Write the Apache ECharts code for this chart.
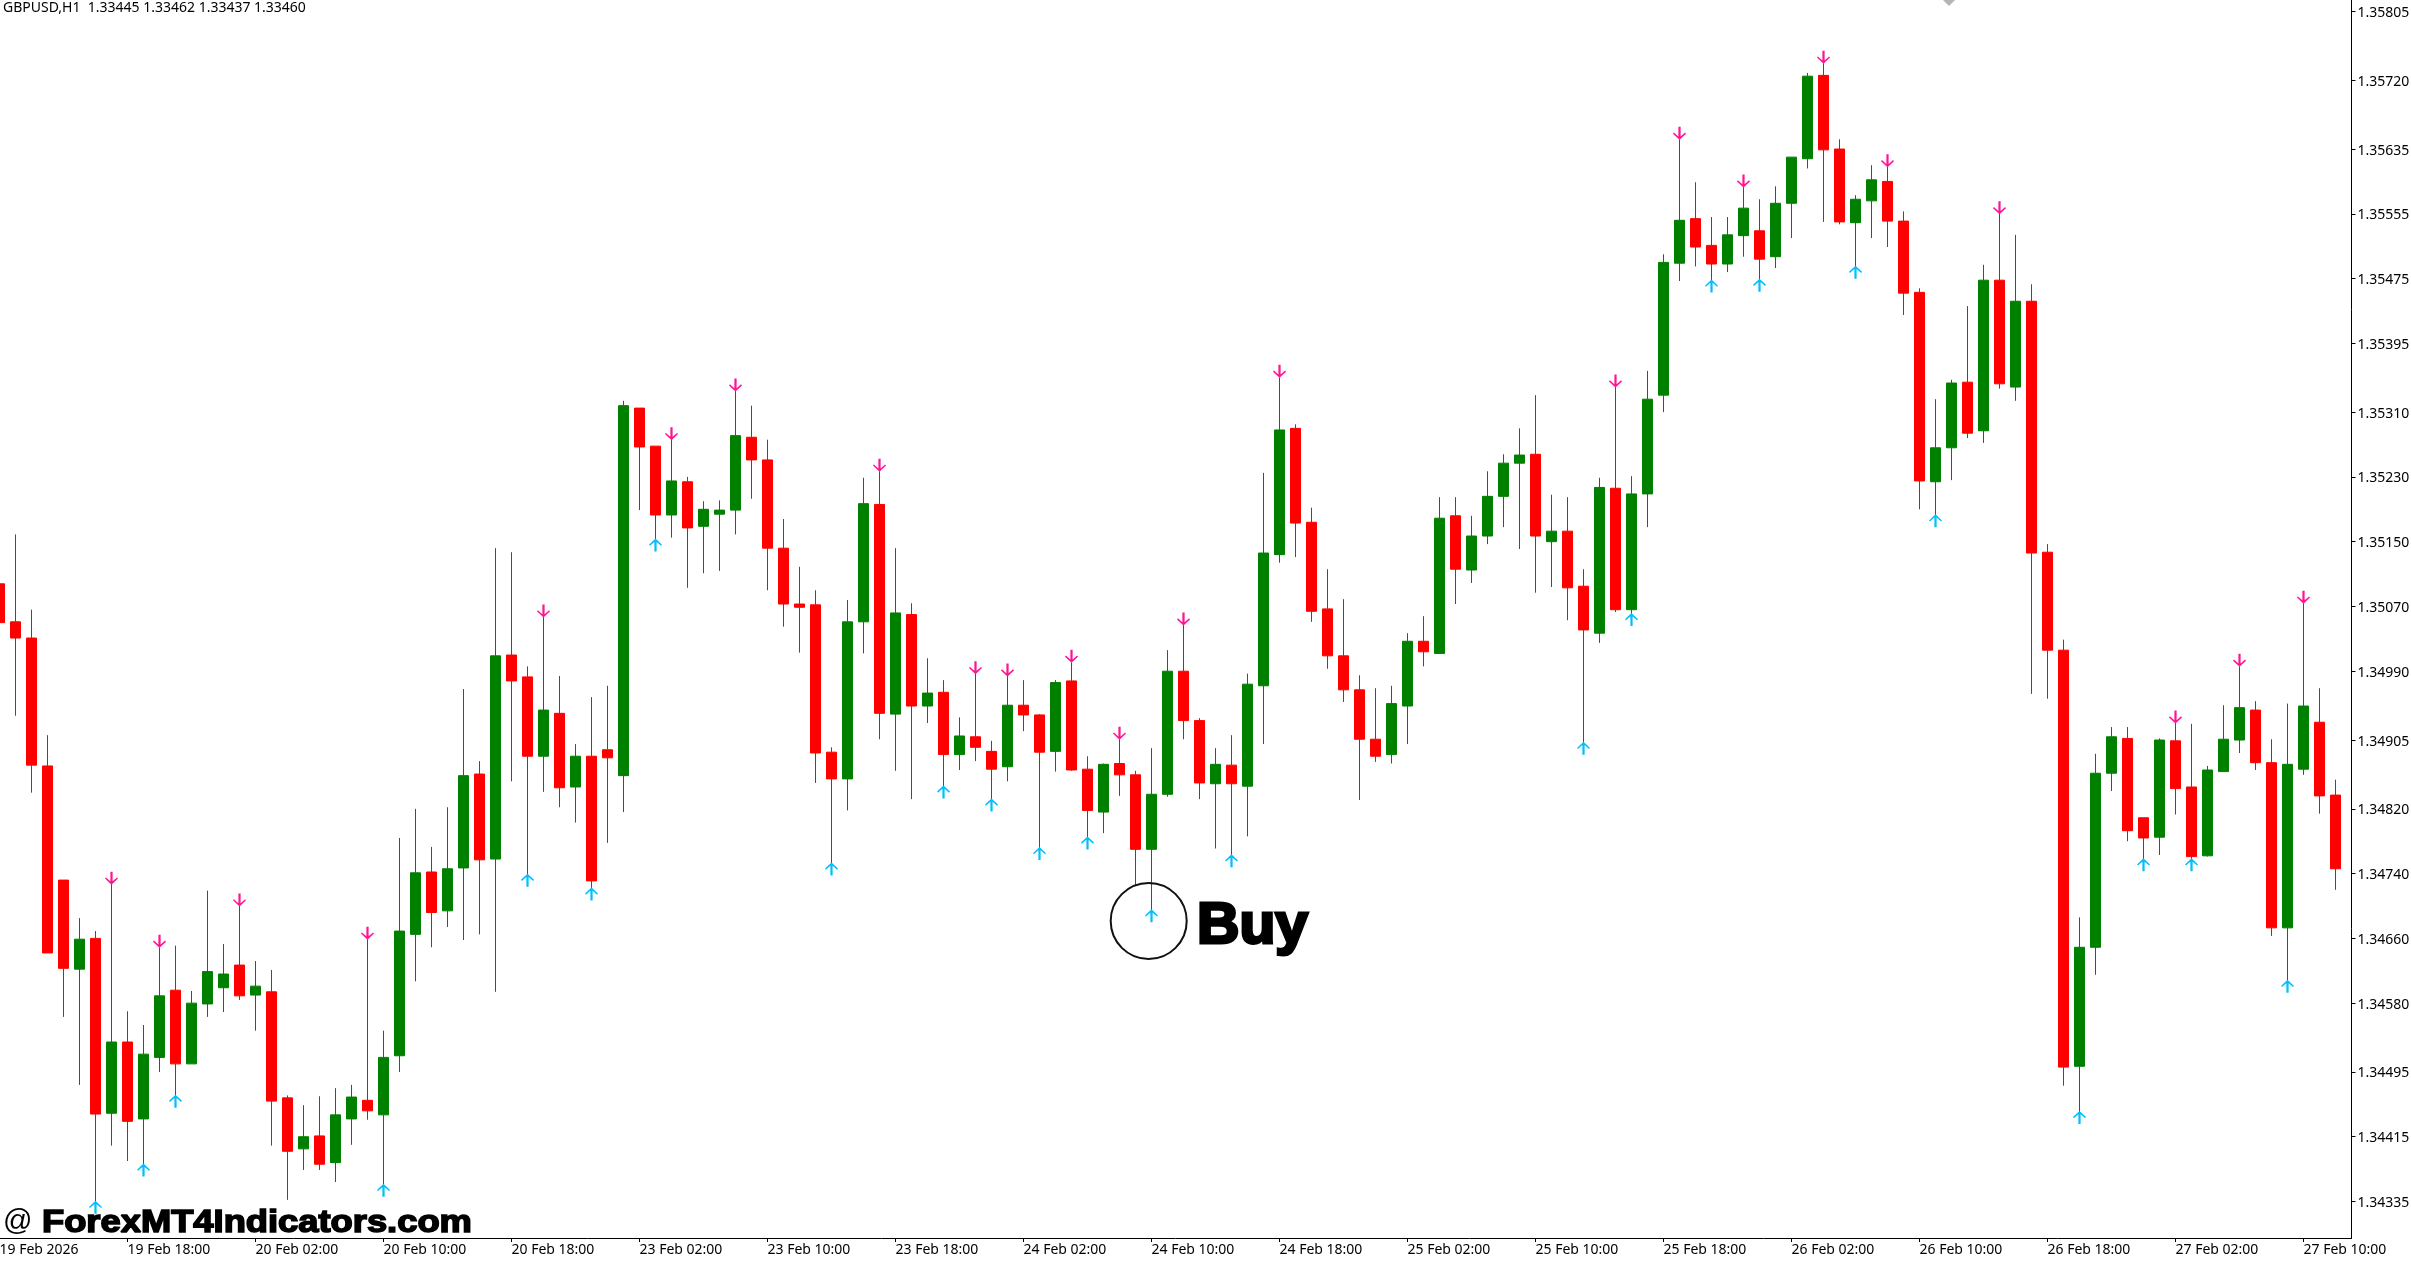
<!DOCTYPE html>
<html>
<head>
<meta charset="utf-8">
<style>html,body{margin:0;padding:0;background:#fff}#c{width:2411px;height:1264px}</style>
<script src="https://cdn.jsdelivr.net/npm/echarts@6/dist/echarts.min.js"></script>
</head>
<body>
<div id="c"></div>
<script>
const priceTicks = [1.35805,1.35720,1.35635,1.35555,1.35475,1.35395,1.35310,1.35230,1.35150,1.35070,1.34990,1.34905,1.34820,1.34740,1.34660,1.34580,1.34495,1.34415,1.34335];
const timeLabels = ['19 Feb 2026','19 Feb 18:00','20 Feb 02:00','20 Feb 10:00','20 Feb 18:00','23 Feb 02:00','23 Feb 10:00','23 Feb 18:00','24 Feb 02:00','24 Feb 10:00','24 Feb 18:00','25 Feb 02:00','25 Feb 10:00','25 Feb 18:00','26 Feb 02:00','26 Feb 10:00','26 Feb 18:00','27 Feb 02:00','27 Feb 10:00'];
const opens = [135098,135051,135031,134873,134732,134622,134660,134444,134532,134437,134513,134596,134505,134579,134599,134627,134590,134594,134463,134400,134416,134383,134437,134460,134442,134515,134665,134742,134694,134747,134863,134758,135010,134983,134885,134938,134847,134885,134893,134861,135315,135268,135183,135224,135169,135184,135189,135279,135251,135142,135073,135072,134890,134857,135051,135196,134937,135060,134947,134964,134887,134909,134891,134872,134948,134936,134891,134978,134869,134816,134876,134862,134770,134838,134990,134929,134851,134874,134848,134972,135134,135290,135174,135067,135009,134967,134906,134887,134947,135027,135012,135182,135115,135157,135206,135247,135258,135150,135163,135095,135037,135216,135066,135209,135331,135494,135549,135516,135493,135528,135534,135502,135568,135623,135726,135635,135544,135571,135595,135546,135458,135224,135266,135347,135287,135473,135341,135447,135137,135016,134502,134649,134864,134907,134809,134785,134904,134847,134762,134866,134905,134942,134877,134673,134869,134927,134837];
const closes = [135050,135031,134874,134642,134623,134659,134443,134532,134434,134517,134589,134505,134580,134619,134616,134589,134601,134459,134397,134415,134381,134442,134464,134447,134513,134669,134741,134692,134746,134861,134757,135009,134978,134885,134942,134846,134885,134731,134883,135318,135267,135183,135225,135167,135190,135189,135281,135251,135142,135073,135069,134889,134857,135051,135197,134938,135062,134947,134963,134887,134910,134896,134869,134948,134936,134890,134976,134868,134818,134875,134862,134770,134838,134990,134929,134852,134875,134851,134974,135136,135288,135173,135064,135009,134967,134906,134885,134950,135027,135014,135179,135116,135157,135206,135247,135257,135157,135163,135093,135041,135217,135066,135209,135326,135495,135547,135514,135493,135529,135562,135499,135568,135625,135725,135634,135545,135573,135597,135546,135457,135225,135266,135346,135284,135473,135345,135447,135136,135016,134501,134649,134864,134909,134793,134784,134905,134845,134761,134868,134906,134945,134877,134673,134875,134947,134836,134746];
const lows = [135050,134935,134840,134642,134563,134479,134334,134404,134385,134380,134495,134465,134505,134563,134569,134584,134546,134404,134337,134374,134374,134359,134405,134436,134355,134495,134607,134649,134674,134658,134665,134594,134854,134738,134841,134822,134803,134721,134778,134816,135189,135152,135155,135093,135111,135114,135159,135203,135090,135045,135013,134852,134752,134818,135012,134906,134867,134832,134926,134847,134868,134879,134831,134854,134916,134771,134866,134867,134784,134790,134836,134726,134694,134835,134906,134832,134771,134762,134786,134900,135124,135131,135051,134993,134952,134831,134878,134876,134900,134996,135012,135073,135099,135147,135168,135141,135087,135094,135053,134901,135025,135063,135060,135168,135310,135472,135490,135472,135483,135502,135473,135488,135525,135611,135545,135542,135489,135525,135514,135430,135190,135182,135226,135278,135272,135339,135324,134962,134956,134478,134445,134615,134842,134780,134757,134763,134813,134757,134761,134866,134889,134868,134663,134607,134862,134814,134720];
const highs = [135098,135159,135066,134911,134732,134685,134669,134727,134570,134553,134649,134651,134595,134719,134653,134700,134632,134621,134466,134454,134465,134475,134479,134659,134546,134784,134820,134773,134822,134968,134879,135142,135137,134996,135057,134984,134900,134958,134972,135324,135315,135268,135276,135230,135200,135201,135336,135318,135276,135178,135119,135090,134896,135078,135229,135237,135142,135074,135006,134979,134933,134987,134904,134984,134979,134937,134979,135001,134885,134876,134906,134867,134895,135016,135047,134932,134895,134911,134987,135235,135353,135295,135192,135116,135079,134985,134969,134972,135037,135058,135205,135205,135182,135237,135258,135290,135331,135208,135205,135116,135229,135341,135231,135361,135505,135647,135594,135551,135551,135588,135573,135589,135625,135729,135741,135647,135578,135615,135613,135558,135463,135326,135350,135441,135492,135555,135529,135468,135147,135029,134686,134888,134921,134921,134809,134907,134926,134925,134873,134948,134996,134953,134906,134950,135074,134969,134856];
const buySignals = [6,9,11,24,33,37,41,52,59,62,65,68,72,77,99,102,107,110,116,121,130,134,137,143];
const sellSignals = [7,10,15,23,34,42,46,55,61,63,67,70,74,80,101,105,109,114,118,125,136,140,144];
const headerText = 'GBPUSD,H1  1.33445 1.33462 1.33437 1.33460';
const watermarkAt = '@';
const watermarkName = 'ForexMT4Indicators.com';
const signalText = 'Buy';

const pr = v => v / 100000;
const candles = opens.map((o, i) => [pr(o), pr(closes[i]), pr(lows[i]), pr(highs[i])]);
const upArrow = 'path://M7 0L14 6.6L13 7.8L8.2 3.6L8.2 14L5.8 14L5.8 3.6L1 7.8L0 6.6Z';
const downArrow = 'path://M7 14L14 7.4L13 6.2L8.2 10.4L8.2 0L5.8 0L5.8 10.4L1 6.2L0 7.4Z';
const TICK_STEP = 8;
// one spare slot past the last bar so the axis runs to the right-hand price scale
const categories = opens.concat([0]).map((_, i) => i % TICK_STEP === 0 ? (timeLabels[i / TICK_STEP] || '') : '');
const uiFont = '"Noto Sans"';

const chart = echarts.init(document.getElementById('c'), null, {renderer: 'canvas'});
chart.setOption({
  animation: false,
  backgroundColor: '#fff',
  grid: {left: -0.5, right: 59.5, top: 0, bottom: 26, containLabel: false, outerBoundsMode: 'none'},
  xAxis: {
    type: 'category', data: categories, boundaryGap: false,
    splitLine: {show: false},
    axisLine: {show: true, onZero: false, lineStyle: {color: '#000', width: 1}},
    axisTick: {show: true, length: 4, lineStyle: {color: '#000'}, interval: i => i % TICK_STEP === 0 && i < 147},
    axisLabel: {
      show: true, interval: i => i % TICK_STEP === 0, align: 'left', margin: 5, color: '#000',
      fontFamily: uiFont, fontSize: 14, showMinLabel: true, hideOverlap: false
    }
  },
  yAxis: {
    type: 'value', position: 'right', min: 1.342899, max: 1.358191, scale: true,
    splitLine: {show: false},
    axisLine: {show: true, lineStyle: {color: '#000', width: 1}},
    axisTick: {show: true, length: 4, lineStyle: {color: '#000'}, customValues: priceTicks},
    axisLabel: {
      show: true, customValues: priceTicks, margin: 6, color: '#000',
      fontFamily: uiFont, fontSize: 14,
      formatter: v => '{p|' + v.toFixed(5) + '}',
      rich: {p: {fontFamily: uiFont, fontSize: 14, color: '#000', padding: [3, 0, 0, 0]}}
    }
  },
  series: [
    {
      type: 'candlestick', data: candles, barWidth: 10, silent: true,
      itemStyle: {color: '#008000', color0: '#FF0000', borderColor: '#008000', borderColor0: '#FF0000', borderWidth: 1}
    },
    {
      type: 'scatter', silent: true, z: 5, symbol: upArrow, symbolSize: [13, 13], symbolOffset: [0, 5],
      itemStyle: {color: '#00BFFF', opacity: 1},
      data: buySignals.map(i => [i, pr(lows[i])])
    },
    {
      type: 'scatter', silent: true, z: 5, symbol: downArrow, symbolSize: [13, 13], symbolOffset: [0, -6],
      itemStyle: {color: '#FF1493', opacity: 1},
      data: sellSignals.map(i => [i, pr(highs[i])])
    }
  ],
  graphic: [
    {type: 'text', z: 10, x: 3, y: 1, style: {text: headerText, fontFamily: uiFont, fontSize: 14, fill: '#000'}},
    {type: 'polygon', z: 10, shape: {points: [[1943, 0], [1955, 0], [1949, 6]]}, style: {fill: '#b4b4b4'}},
    {type: 'circle', z: 10, shape: {cx: 1148.7, cy: 921, r: 38}, style: {fill: 'none', stroke: '#111', lineWidth: 2}},
    {type: 'text', z: 10, x: 1197, y: 899, scaleX: 1.03, style: {text: signalText, fontFamily: '"Liberation Sans"', fontWeight: 'bold', fontSize: 57, fill: '#000', stroke: '#000', lineWidth: 3}},
    {type: 'text', z: 10, x: 3, y: 1207, style: {text: watermarkAt, fontFamily: '"Liberation Sans"', fontSize: 29, fill: '#000'}},
    {type: 'text', z: 10, x: 42, y: 1207, scaleX: 1.135, style: {text: watermarkName, fontFamily: '"Liberation Sans"', fontWeight: 'bold', fontSize: 32, fill: '#000', stroke: '#000', lineWidth: 1.6}}
  ]
});
</script>
</body>
</html>
